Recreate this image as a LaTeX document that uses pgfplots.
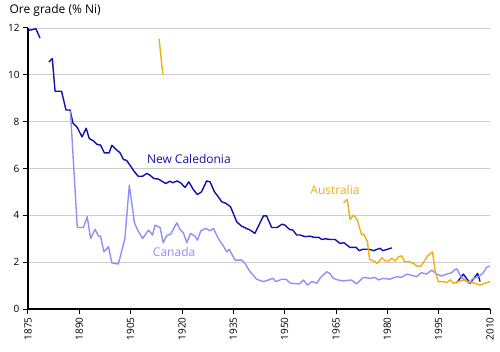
\documentclass[border=0pt]{standalone}
\usepackage{pgfplots}
\pgfplotsset{compat=1.18}
\usepackage{fontspec}
\setmainfont{Open Sans}
\definecolor{nc}{RGB}{16,16,176}
\definecolor{ca}{RGB}{144,144,248}
\definecolor{au}{RGB}{238,176,16}
\definecolor{gr}{RGB}{204,204,204}
\begin{document}
\begin{tikzpicture}[x=1pt,y=1pt]
\path[use as bounding box] (-28,-42) rectangle (472,309);
\begin{axis}[
  at={(0,0)}, anchor=south west,
  scale only axis, width=462pt, height=281pt,
  xmin=1875, xmax=2010, ymin=0, ymax=12,
  axis lines*=left,
  axis line style={black, line width=1.2pt},
  xtick={1875,1890,...,2010},
  ytick={0,2,...,12},
  tick align=outside,
  major tick length=5pt,
  tick style={black, line width=1pt},
  ymajorgrids, grid style={gr, line width=0.9pt},
  xticklabel style={rotate=90, anchor=east, font=\fontsize{10}{12}\selectfont},
  yticklabel style={font=\fontsize{10}{12}\selectfont},
  /pgf/number format/assume math mode=true,
  /pgf/number format/1000 sep={},
  clip=false,
  every axis plot/.append style={line width=1.4pt, line join=round},
]
% New Caledonia
\addplot[nc, no marks] coordinates {(1875,11.9)(1876,11.92)(1877.3,11.97)(1878.5,11.57)};
\addplot[nc, no marks] coordinates {
(1881.1,10.55)(1882.1,10.7)(1882.9,9.3)(1884.8,9.3)(1886.1,8.5)(1887.3,8.5)(1888.1,7.95)
(1889.4,7.75)(1890.8,7.35)(1892,7.72)(1892.9,7.28)(1894.1,7.18)(1895.2,7.03)(1896.2,7.0)
(1897.3,6.67)(1898.7,6.67)(1899.5,6.99)(1900.7,6.82)(1901.9,6.67)(1902.9,6.38)(1903.8,6.35)
(1905,6.1)(1906,5.88)(1907.2,5.67)(1908.5,5.67)(1909.7,5.79)(1910.6,5.72)(1911.8,5.57)
(1913.1,5.55)(1914.4,5.43)(1915.3,5.36)(1916.5,5.46)(1917.3,5.39)(1918.5,5.47)(1919.6,5.39)
(1920.9,5.19)(1922,5.43)(1923.3,5.1)(1924.5,4.89)(1925.7,5.0)(1927.2,5.47)(1928.2,5.43)
(1929.5,5.0)(1930.6,4.79)(1931.6,4.58)(1932.9,4.51)(1934.2,4.36)(1936,3.72)(1937.4,3.54)
(1939.9,3.37)(1941.3,3.23)(1943.8,3.98)(1944.7,3.98)(1946.2,3.48)(1947.8,3.48)(1949.2,3.62)
(1950.1,3.58)(1951.4,3.4)(1952.4,3.37)(1953.5,3.16)(1954.5,3.16)(1956,3.09)(1957.4,3.11)
(1958.6,3.06)(1960,3.06)(1960.8,2.97)(1961.8,3.0)(1963.3,2.97)(1964.7,2.97)(1966.2,2.8)
(1967.3,2.83)(1969.1,2.63)(1970.9,2.63)(1971.8,2.49)(1972.8,2.55)(1974.7,2.55)(1976.1,2.49)
(1977,2.55)(1977.9,2.59)(1978.7,2.49)(1980,2.55)(1981.3,2.61)};
\addplot[nc, no marks] coordinates {(2000.3,1.12)(2002.2,1.49)(2004.2,1.1)(2006.4,1.52)(2007.1,1.17)};
% Canada
\addplot[ca, no marks] coordinates {
(1887.4,8.45)(1889.4,3.48)(1891.2,3.48)(1892.3,3.94)(1893.3,3.01)(1894.6,3.4)(1895.6,3.11)
(1896.2,3.11)(1897.2,2.44)(1898.5,2.66)(1899.5,1.97)(1901.4,1.92)(1903.3,3.0)(1904.6,5.29)
(1906.1,3.68)(1907.2,3.33)(1908.5,3.01)(1910.2,3.37)(1911.4,3.16)(1912.1,3.58)(1913.6,3.48)
(1914.5,2.83)(1915.5,3.13)(1916.7,3.2)(1918.5,3.68)(1919.4,3.4)(1920.4,3.26)(1921.4,2.83)
(1922.5,3.23)(1923.8,3.11)(1924.5,2.94)(1925.5,3.34)(1927,3.44)(1928.2,3.34)(1929.2,3.44)
(1930.6,3.01)(1931.9,2.73)(1933.1,2.44)(1933.8,2.55)(1935.5,2.09)(1937.4,2.09)(1938.4,1.95)
(1939.7,1.63)(1941.8,1.27)(1943.8,1.17)(1945.3,1.24)(1946.5,1.31)(1947.5,1.17)(1949.1,1.27)
(1950.4,1.27)(1951.7,1.1)(1954.3,1.07)(1955.5,1.24)(1956.6,1.02)(1958,1.17)(1959.4,1.1)
(1960.5,1.35)(1962.3,1.59)(1963.2,1.52)(1964.2,1.31)(1965.6,1.24)(1967.1,1.2)(1969.5,1.24)
(1971,1.07)(1973,1.35)(1974.9,1.31)(1976.4,1.35)(1977.4,1.24)(1978.8,1.31)(1980.7,1.27)
(1982.7,1.38)(1984.1,1.35)(1985.7,1.49)(1986.8,1.45)(1988.5,1.38)(1990,1.55)(1991.4,1.49)
(1993,1.66)(1994.4,1.49)(1995.9,1.41)(1997.3,1.49)(1998.8,1.55)(1999.5,1.66)(2000.3,1.72)
(2001.5,1.38)(2003.8,1.1)(2005.2,1.31)(2006.7,1.38)(2007.9,1.52)(2009,1.78)(2010,1.83)};
% Australia
\addplot[au, no marks] coordinates {(1913.3,11.54)(1914.4,10.02)};
\addplot[au, no marks] coordinates {
(1967.2,4.54)(1968.3,4.68)(1969.1,3.82)(1970.1,4.01)(1971.2,3.82)(1972.5,3.16)(1973.1,3.2)
(1974.2,2.87)(1974.8,2.12)(1976,2.05)(1977.1,1.95)(1978.4,2.19)(1979.4,2.05)(1980.4,2.05)
(1981.3,2.17)(1982.3,2.05)(1983.2,2.23)(1984.2,2.27)(1985,2.02)(1986.2,2.02)(1987.7,1.95)
(1988.6,1.83)(1989.8,1.83)(1991,2.09)(1992,2.3)(1993.2,2.44)(1994,1.6)(1994.9,1.17)
(1996.4,1.17)(1997.3,1.12)(1998.3,1.24)(1999.3,1.1)(2000.7,1.17)(2002.2,1.24)(2003.6,1.17)
(2005.1,1.12)(2007.1,1.02)(2008.5,1.1)(2010,1.17)};
% labels
\node[nc, font=\fontsize{12}{14}\selectfont] at (axis cs:1922,6.4) {New Caledonia};
\node[ca, font=\fontsize{12}{14}\selectfont] at (axis cs:1917.7,2.43) {Canada};
\node[au, font=\fontsize{12}{14}\selectfont] at (axis cs:1964.7,5.07) {Australia};
\node[anchor=west, font=\fontsize{12}{14}\selectfont] at (axis cs:1868.6,12.75) {Ore grade (\% Ni)};
\end{axis}
\end{tikzpicture}
\end{document}
